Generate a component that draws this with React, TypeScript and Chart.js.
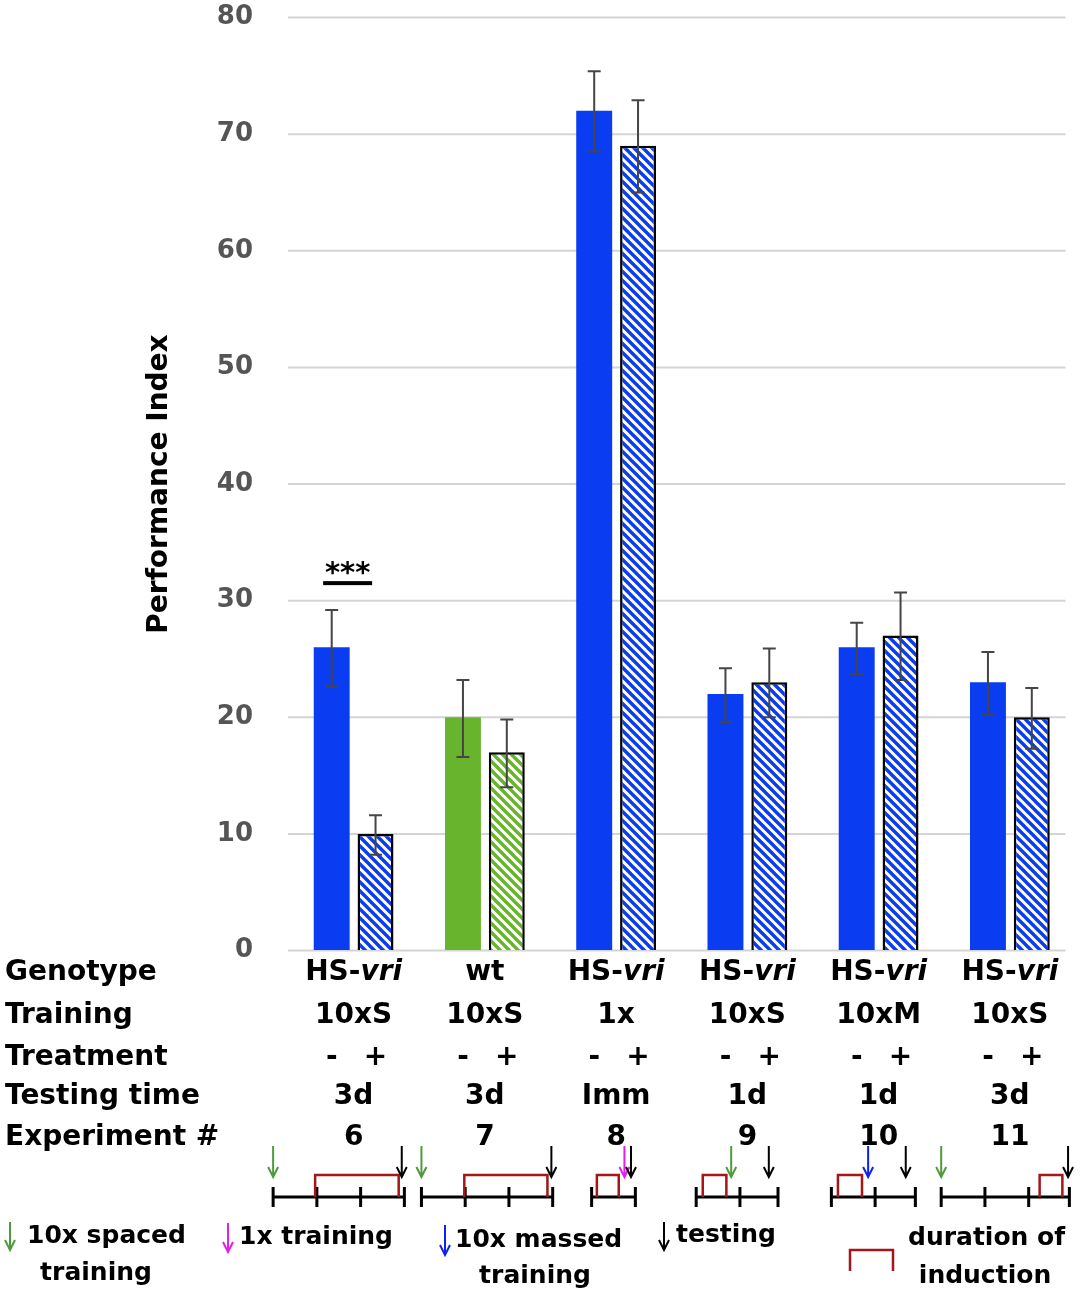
import { useEffect, useRef } from "react";
import { Chart, registerables } from "chart.js";

Chart.register(...registerables);

// experiment numbers double as the x categories
const experiments = ["6", "7", "8", "9", "10", "11"];
const genotypePlain = ["HS-", "wt", "HS-", "HS-", "HS-", "HS-"];
const genotypeItalic = ["vri", "", "vri", "vri", "vri", "vri"];
const trainings = ["10xS", "10xS", "1x", "10xS", "10xM", "10xS"];
const testTimes = ["3d", "3d", "Imm", "1d", "1d", "3d"];
const treatmentMarks = ["-", "+"];
const groupKinds = ["blue", "green", "blue", "blue", "blue", "blue"];

const controlPI = [26, 20, 72, 22, 26, 23];
const controlLow = [22.6, 16.6, 68.5, 19.6, 23.7, 20.2];
const controlHigh = [29.2, 23.2, 75.4, 24.2, 28.1, 25.6];
const treatedPI = [10, 17, 69, 23, 27, 20];
const treatedLow = [8.2, 14.0, 65.0, 20.0, 23.2, 17.3];
const treatedHigh = [11.6, 19.8, 72.9, 25.9, 30.7, 22.5];

const yMin = 0;
const yMax = 80;
const yStep = 10;

// significance marker over group 0
const sigGroups = [0];
const sigValues = [31.5];
const sigLabels = ["***"];

// protocol timelines, in days
const tlStart = [-1.84, -1.45, -0.56, -1.17, -1.08, -1.57];
const tlTicks = [
  [0, 1, 2, 3],
  [0, 1, 2, 3],
  [0, 1],
  [0, 1, 1.87],
  [0, 1, 1.92],
  [0, 1, 2, 2.93]
];
const inductionFrom = [0.96, 0.98, 0.12, 0.15, 0.15, 2.25];
const inductionTo = [2.87, 2.88, 0.62, 0.69, 0.7, 2.77];
const trainAt = [0, 0, 0.75, 0.8, 0.84, 0];
const trainKind = ["spaced", "spaced", "single", "spaced", "massed", "spaced"];
const testAt = [2.94, 2.97, 0.9, 1.66, 1.7, 2.9];

const COLORS: Record<string, string> = {
  blue: "#0a3cf2",
  green: "#68b42c"
};
const ARROWS: Record<string, string> = {
  spaced: "#4f9a3c",
  single: "#e51ee5",
  massed: "#1020f0",
  test: "#000000"
};
const RED = "#a3161a";
const FONT = '"DejaVu Sans", sans-serif';

function stripes(color: string) {
  const s = 9;
  const c = document.createElement("canvas");
  c.width = s;
  c.height = s;
  const g = c.getContext("2d")!;
  g.fillStyle = "#ffffff";
  g.fillRect(0, 0, s, s);
  g.strokeStyle = color;
  g.lineWidth = 3.4;
  for (const k of [-1, 0, 1]) {
    g.beginPath();
    g.moveTo(k * s - 2, -2);
    g.lineTo(k * s + s + 2, s + 2);
    g.stroke();
  }
  return g.createPattern(c, "repeat")!;
}

function arrow(ctx: CanvasRenderingContext2D, x: number, y1: number, y2: number, color: string) {
  ctx.save();
  ctx.strokeStyle = color;
  ctx.lineWidth = 2;
  ctx.beginPath();
  ctx.moveTo(x, y1);
  ctx.lineTo(x, y2);
  ctx.moveTo(x - 5, y2 - 10);
  ctx.lineTo(x, y2);
  ctx.lineTo(x + 5, y2 - 10);
  ctx.stroke();
  ctx.restore();
}

const overlay = {
  id: "overlay",
  beforeDatasetsDraw(chart: any) {
    // horizontal grid, stopping a little short of the right edge
    const ctx: CanvasRenderingContext2D = chart.ctx;
    const y = chart.scales.y;
    const { left, right } = chart.chartArea;
    ctx.save();
    ctx.strokeStyle = "#d4d4d4";
    ctx.lineWidth = 2;
    y.ticks.forEach((t: any) => {
      const py = y.getPixelForValue(t.value);
      ctx.beginPath();
      ctx.moveTo(left, py);
      ctx.lineTo(right - 10, py);
      ctx.stroke();
    });
    ctx.restore();
  },
  afterDatasetsDraw(chart: any) {
    const ctx: CanvasRenderingContext2D = chart.ctx;
    const y = chart.scales.y;
    const lows = [controlLow, treatedLow];
    const highs = [controlHigh, treatedHigh];
    ctx.save();
    ctx.strokeStyle = "#454545";
    ctx.lineWidth = 2;
    [0, 1].forEach((d) => {
      chart.getDatasetMeta(d).data.forEach((bar: any, i: number) => {
        const top = y.getPixelForValue(highs[d][i]);
        const bot = y.getPixelForValue(lows[d][i]);
        ctx.beginPath();
        ctx.moveTo(bar.x, top);
        ctx.lineTo(bar.x, bot);
        ctx.moveTo(bar.x - 6.5, top);
        ctx.lineTo(bar.x + 6.5, top);
        ctx.moveTo(bar.x - 6.5, bot);
        ctx.lineTo(bar.x + 6.5, bot);
        ctx.stroke();
      });
    });

    sigGroups.forEach((g, k) => {
      const a = chart.getDatasetMeta(0).data[g];
      const b = chart.getDatasetMeta(1).data[g];
      const cx = (a.x + b.x) / 2 - 6;
      const ly = y.getPixelForValue(sigValues[k]);
      ctx.fillStyle = "#000";
      ctx.fillRect(cx - 24.5, ly - 2, 49, 4);
      ctx.font = `bold 29px ${FONT}`;
      ctx.textAlign = "center";
      ctx.textBaseline = "alphabetic";
      ctx.fillText(sigLabels[k], cx, ly - 1);
    });
    ctx.restore();
  },
  afterDraw(chart: any) {
    const ctx: CanvasRenderingContext2D = chart.ctx;
    const x = chart.scales.x;
    const day = (x.getPixelForValue(1) - x.getPixelForValue(0)) / 3;
    const rows = [973, 1016, 1058, 1097, 1138];
    const rowNames = ["Genotype", "Training", "Treatment", "Testing time", "Experiment #"];
    const bold = `bold 28px ${FONT}`;
    const italic = `italic bold 28px ${FONT}`;

    ctx.save();
    ctx.fillStyle = "#000";
    ctx.textBaseline = "middle";
    ctx.font = bold;
    ctx.textAlign = "left";
    rowNames.forEach((n, r) => ctx.fillText(n, 5, rows[r]));

    experiments.forEach((exp, i) => {
      const cx = x.getPixelForValue(i);
      // genotype with italic allele name
      ctx.font = bold;
      const w1 = ctx.measureText(genotypePlain[i]).width;
      ctx.font = italic;
      const w2 = ctx.measureText(genotypeItalic[i]).width;
      const left = cx - (w1 + w2) / 2;
      ctx.textAlign = "left";
      ctx.font = bold;
      ctx.fillText(genotypePlain[i], left, rows[0]);
      ctx.font = italic;
      ctx.fillText(genotypeItalic[i], left + w1, rows[0]);

      ctx.font = bold;
      ctx.textAlign = "center";
      ctx.fillText(trainings[i], cx, rows[1]);
      [0, 1].forEach((d) => {
        const bar = chart.getDatasetMeta(d).data[i];
        ctx.fillText(treatmentMarks[d], bar.x, rows[2]);
      });
      ctx.fillText(testTimes[i], cx, rows[3]);
      ctx.fillText(exp, cx, rows[4]);

      // timeline
      const x0 = cx + tlStart[i] * day;
      const px = (t: number) => x0 + t * day;
      const ticks = tlTicks[i];
      const lineY = 1197;
      ctx.strokeStyle = "#000";
      ctx.lineWidth = 3;
      ctx.beginPath();
      ctx.moveTo(px(ticks[0]), lineY);
      ctx.lineTo(px(ticks[ticks.length - 1]), lineY);
      ticks.forEach((t) => {
        ctx.moveTo(px(t), lineY - 10);
        ctx.lineTo(px(t), lineY + 10);
      });
      ctx.stroke();

      ctx.strokeStyle = RED;
      ctx.lineWidth = 2.5;
      ctx.beginPath();
      ctx.moveTo(px(inductionFrom[i]), lineY);
      ctx.lineTo(px(inductionFrom[i]), 1175);
      ctx.lineTo(px(inductionTo[i]), 1175);
      ctx.lineTo(px(inductionTo[i]), lineY);
      ctx.stroke();

      arrow(ctx, px(trainAt[i]), 1146, 1177, ARROWS[trainKind[i]]);
      arrow(ctx, px(testAt[i]), 1146, 1177, ARROWS.test);
    });

    // key
    ctx.font = `bold 25px ${FONT}`;
    ctx.fillStyle = "#000";
    ctx.textAlign = "left";
    arrow(ctx, 10, 1222, 1250, ARROWS.spaced);
    ctx.fillText("10x spaced", 27, 1236);
    ctx.textAlign = "center";
    ctx.fillText("training", 96, 1273);
    ctx.textAlign = "left";
    arrow(ctx, 228, 1223, 1252, ARROWS.single);
    ctx.fillText("1x training", 239, 1237);
    arrow(ctx, 445, 1225, 1255, ARROWS.massed);
    ctx.fillText("10x massed", 455, 1240);
    ctx.textAlign = "center";
    ctx.fillText("training", 535, 1276);
    ctx.textAlign = "left";
    arrow(ctx, 664, 1222, 1250, ARROWS.test);
    ctx.fillText("testing", 676, 1235);
    ctx.strokeStyle = RED;
    ctx.lineWidth = 2.5;
    ctx.beginPath();
    ctx.moveTo(850, 1271);
    ctx.lineTo(850, 1250);
    ctx.lineTo(893, 1250);
    ctx.lineTo(893, 1271);
    ctx.stroke();
    ctx.fillText("duration of", 908, 1238);
    ctx.textAlign = "center";
    ctx.fillText("induction", 985, 1276);
    ctx.restore();
  }
};

export default function App() {
  const canvasRef = useRef<HTMLCanvasElement | null>(null);

  useEffect(() => {
    document.body.style.margin = "0";
    if (!canvasRef.current) {
      return;
    }
    const solid = groupKinds.map((k) => COLORS[k]);
    const hatched = groupKinds.map((k) => stripes(COLORS[k]));

    const chart = new Chart(canvasRef.current, {
      type: "bar",
      data: {
        labels: experiments,
        datasets: [
          {
            label: "-",
            data: controlPI,
            backgroundColor: solid,
            borderWidth: 0
          },
          {
            label: "+",
            data: treatedPI,
            backgroundColor: hatched as any,
            borderColor: "#000000",
            borderWidth: 2.5
          }
        ]
      },
      options: {
        responsive: false,
        animation: false,
        categoryPercentage: 0.668,
        barPercentage: 0.82,
        layout: { padding: { top: 17.5, bottom: 349.5, left: 0, right: 4.5 } },
        scales: {
          x: { type: "category", display: false },
          y: {
            min: yMin,
            max: yMax,
            afterFit: (scale: any) => {
              scale.width = 288;
            },
            ticks: {
              stepSize: yStep,
              padding: 0,
              color: "#555555",
              font: { family: FONT, size: 26, weight: "bold" }
            },
            grid: {
              drawOnChartArea: false,
              drawTicks: true,
              tickLength: 35,
              tickColor: "rgba(0,0,0,0)"
            },
            border: { display: false },
            title: {
              display: true,
              text: "Performance Index",
              color: "#000000",
              padding: { top: 143, bottom: 0 },
              font: { family: FONT, size: 28, weight: "bold" }
            }
          }
        },
        plugins: {
          legend: { display: false },
          tooltip: { enabled: false }
        }
      },
      plugins: [overlay]
    });

    return () => chart.destroy();
  }, []);

  return <canvas ref={canvasRef} width={1080} height={1300} />;
}
